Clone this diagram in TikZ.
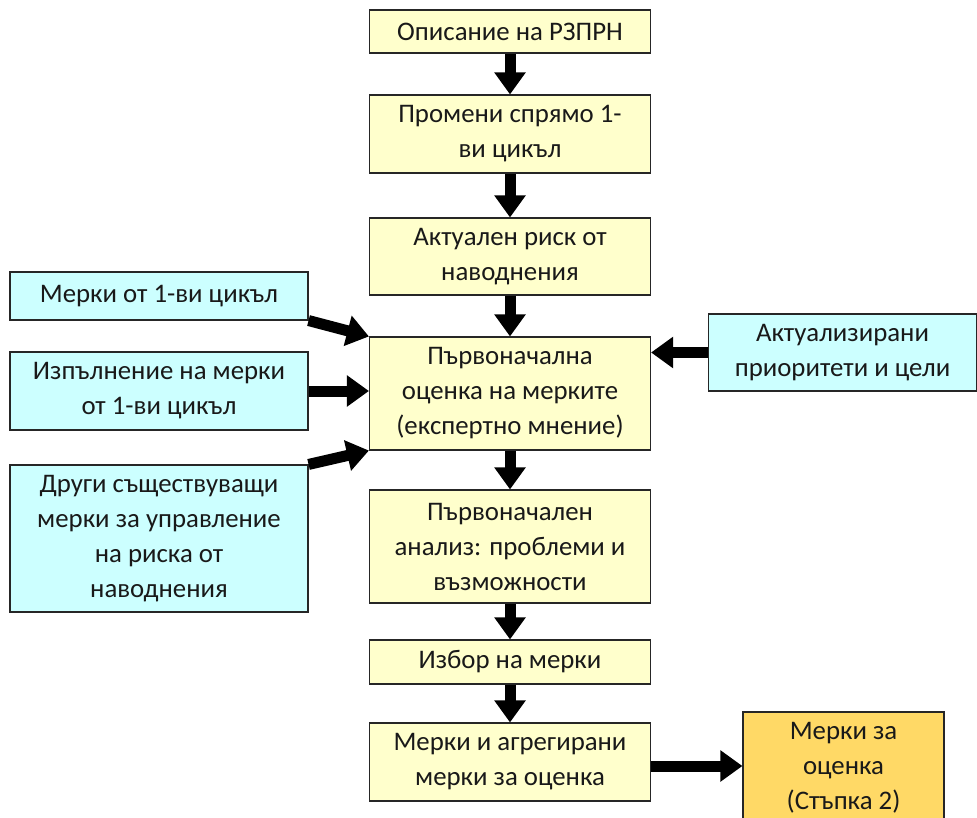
\documentclass[tikz,border=0pt]{standalone}
\usepackage{fontspec}
\setmainfont{Carlito}
\usetikzlibrary{arrows.meta,calc}
\definecolor{ybox}{HTML}{FFFFCC}
\definecolor{cbox}{HTML}{CCFFFF}
\definecolor{obox}{HTML}{FFD966}
\tikzset{
  base/.style={draw=black!85, line width=1.1pt, align=center, inner sep=0pt,
    font=\fontsize{26.8}{35}\selectfont, text=black!90},
  ynode/.style={base, fill=ybox, minimum width=281pt},
  cnode/.style={base, fill=cbox, minimum width=298pt},
  onode/.style={base, fill=obox, minimum width=201pt},
  blk/.style={line width=11pt, -{Triangle[width=30pt,length=22pt]}, black},
}
\begin{document}
\begin{tikzpicture}[x=1pt,y=-1pt]
\useasboundingbox (0,0) rectangle (977,818);
\node[ynode, minimum height=43pt] (y1) at (510,31.5) {Описание на РЗПРН};
\node[ynode, minimum height=78pt] (y2) at (510,134) {Промени спрямо 1-\\ви цикъл};
\node[ynode, minimum height=77pt] (y3) at (510,256.5) {Актуален риск от\\наводнения};
\node[ynode, minimum height=113pt] (y4) at (510,393.5) {Първоначална\\оценка на мерките\\(експертно мнение)};
\node[ynode, minimum height=113pt] (y5) at (510,546.5) {Първоначален\\анализ: проблеми и\\възможности};
\node[ynode, minimum height=44pt] (y6) at (510,662) {Избор на мерки};
\node[ynode, minimum height=78pt] (y7) at (510,762) {Мерки и агрегирани\\мерки за оценка};
\node[onode, minimum height=112pt] (o1) at (843.5,768) {Мерки за\\оценка\\(Стъпка 2)};
\node[cnode, minimum height=48pt] (c1) at (159,296) {Мерки от 1-ви цикъл};
\node[cnode, minimum height=78pt] (c2) at (159,391) {Изпълнение на мерки\\от 1-ви цикъл};
\node[cnode, minimum height=147pt] (c3) at (159,538.5) {Други съществуващи\\мерки за управление\\на риска от\\наводнения};
\node[cnode, minimum width=268pt, minimum height=77pt] (r1) at (842.5,352.5) {Актуализирани\\приоритети и цели};
\draw[blk] (y1.south) -- (y2.north);
\draw[blk] (y2.south) -- (y3.north);
\draw[blk] (y3.south) -- (y4.north);
\draw[blk] (y4.south) -- (y5.north);
\draw[blk] (y5.south) -- (y6.north);
\draw[blk] (y6.south) -- (y7.north);
\draw[blk] (c1.south east) -- (y4.north west);
\draw[blk] (c2.east) -- (c2.east -| y4.west);
\draw[blk] (c3.north east) -- (y4.south west);
\draw[blk] (r1.west) -- (r1.west -| y4.east);
\draw[blk] ($(y7.east)+(0,4)$) -- ($(y7.east -| o1.west)+(0,4)$);
\end{tikzpicture}
\end{document}
